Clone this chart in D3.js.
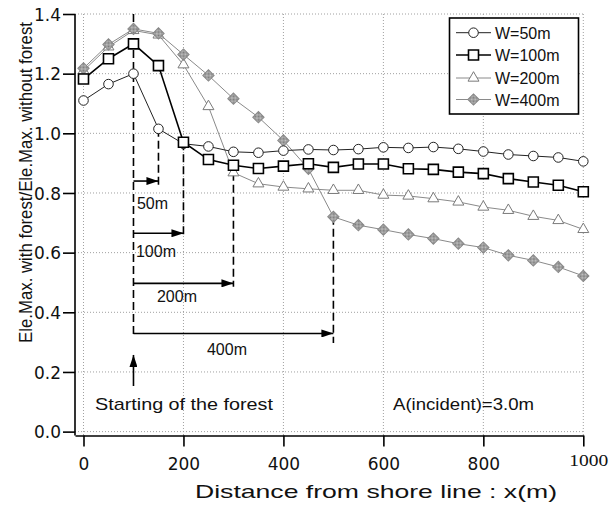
<!DOCTYPE html>
<html>
<head>
<meta charset="utf-8">
<script src="https://cdn.jsdelivr.net/npm/d3@7/dist/d3.min.js"></script>
<style>
  body { margin: 0; background: #fff; }
  svg { display: block; font-family: "Liberation Sans", Arial, sans-serif; }
  .grid line { stroke: #a0a0a0; stroke-width: 1; stroke-dasharray: 1,2; }
  .note { font-size: 16px; fill: #111; }
</style>
</head>
<body>
<svg id="chart" width="616" height="505"></svg>
<script>
// distance from shore line (m)
var distance = [0, 50, 100, 150, 200, 250, 300, 350, 400, 450, 500,
                550, 600, 650, 700, 750, 800, 850, 900, 950, 1000];

// Ele.Max. with forest / Ele.Max. without forest, one list per forest width
var w50  = [1.110, 1.165, 1.200, 1.015, 0.965, 0.956, 0.938, 0.935, 0.942, 0.946, 0.944,
            0.947, 0.953, 0.951, 0.954, 0.948, 0.939, 0.929, 0.924, 0.919, 0.906];
var w100 = [1.182, 1.250, 1.300, 1.227, 0.970, 0.912, 0.893, 0.882, 0.890, 0.898, 0.886,
            0.897, 0.897, 0.881, 0.879, 0.870, 0.865, 0.848, 0.837, 0.826, 0.804];
var w200 = [1.210, 1.290, 1.345, 1.330, 1.230, 1.090, 0.868, 0.831, 0.820, 0.814, 0.809,
            0.809, 0.793, 0.790, 0.781, 0.770, 0.753, 0.742, 0.722, 0.708, 0.678];
var w400 = [1.218, 1.298, 1.350, 1.335, 1.264, 1.194, 1.116, 1.054, 0.976, 0.881, 0.720,
            0.692, 0.677, 0.661, 0.647, 0.630, 0.617, 0.591, 0.574, 0.552, 0.522];

var seriesNames = ["W=50m", "W=100m", "W=200m", "W=400m"];
var xTicks = [0, 200, 400, 600, 800, 1000];
var yTicks = [0.0, 0.2, 0.4, 0.6, 0.8, 1.0, 1.2, 1.4];

// forest start and the widths marked with arrows
var forestStart = 100;
var widthMarks = [
  { label: "50m",  width: 50,  arrowY: 0.840, lineTop: 1.015, lineBottom: 0.816, textX: 107, textY: 0.746 },
  { label: "100m", width: 100, arrowY: 0.665, lineTop: 0.970, lineBottom: 0.649, textX: 105, textY: 0.586 },
  { label: "200m", width: 200, arrowY: 0.497, lineTop: 0.868, lineBottom: 0.486, textX: 147, textY: 0.435 },
  { label: "400m", width: 400, arrowY: 0.329, lineTop: 0.720, lineBottom: 0.297, textX: 247, textY: 0.257 }
];

var svg = d3.select("#chart");

var x = d3.scaleLinear().domain([-17, 1000]).range([75, 583.3]);
var y = d3.scaleLinear().domain([-0.013, 1.4]).range([435.5, 14]);

svg.append("rect").attr("width", 616).attr("height", 505).attr("fill", "#fff");

var defs = svg.append("defs");
defs.append("marker")
    .attr("id", "head")
    .attr("viewBox", "0 0 12 8")
    .attr("refX", 12).attr("refY", 4)
    .attr("markerWidth", 12).attr("markerHeight", 8)
    .attr("markerUnits", "userSpaceOnUse")
    .attr("orient", "auto")
  .append("path")
    .attr("d", "M0,0L12,4L0,8Z")
    .attr("fill", "#000");

var pat = defs.append("pattern")
    .attr("id", "check")
    .attr("width", 2).attr("height", 2)
    .attr("patternUnits", "userSpaceOnUse");
pat.append("rect").attr("width", 2).attr("height", 2).attr("fill", "#c8c8c8");
pat.append("rect").attr("width", 1).attr("height", 1).attr("fill", "#777");
pat.append("rect").attr("x", 1).attr("y", 1).attr("width", 1).attr("height", 1).attr("fill", "#777");

// dotted grid
var grid = svg.append("g").attr("class", "grid");
grid.selectAll(".h").data(yTicks).enter().append("line")
    .attr("x1", x(-17)).attr("x2", x(1000))
    .attr("y1", function(d) { return y(d); })
    .attr("y2", function(d) { return y(d); });
grid.selectAll(".v").data(xTicks).enter().append("line")
    .attr("x1", function(d) { return x(d); })
    .attr("x2", function(d) { return x(d); })
    .attr("y1", y(1.4)).attr("y2", y(-0.013));

// axes
var xAxis = svg.append("g")
    .attr("transform", "translate(0," + y(-0.013) + ")")
    .call(d3.axisBottom(x).tickValues(xTicks).tickSize(11).tickSizeOuter(0).tickPadding(11)
      .tickFormat(d3.format("d")));
var yAxis = svg.append("g")
    .attr("transform", "translate(" + x(-17) + ",0)")
    .call(d3.axisLeft(y).tickValues(yTicks).tickSize(12).tickSizeOuter(0).tickPadding(2)
      .tickFormat(d3.format(".1f")));

[xAxis, yAxis].forEach(function(a) {
  a.attr("font-family", "'DejaVu Sans', sans-serif").attr("font-size", 17);
  a.select(".domain").attr("stroke", "#000").attr("stroke-width", 1.6);
  a.selectAll(".tick line").attr("stroke", "#000").attr("stroke-width", 1.6);
  a.selectAll(".tick text").attr("fill", "#111");
});
yAxis.select(".domain").attr("d", "M0," + y(1.4) + "V" + y(-0.013));
yAxis.selectAll(".tick text").attr("dy", "0.36em")
    .attr("textLength", 27).attr("lengthAdjust", "spacingAndGlyphs");
xAxis.selectAll(".tick text").attr("dy", "0.71em");
// the 1000 label is set in a serif face in the original figure
xAxis.selectAll(".tick text").filter(function(d) { return d === 1000; })
    .attr("font-family", "'Liberation Serif', 'Times New Roman', serif")
    .attr("dx", 5).attr("dy", "0.5em")
    .attr("textLength", 39).attr("lengthAdjust", "spacingAndGlyphs");

// axis titles
svg.append("text")
    .attr("x", 195).attr("y", 498)
    .attr("font-size", 19).attr("fill", "#111")
    .attr("textLength", 362).attr("lengthAdjust", "spacingAndGlyphs")
    .text("Distance from shore line : x(m)");
svg.append("text")
    .attr("transform", "translate(32,343) rotate(-90)")
    .attr("font-size", 18).attr("fill", "#111")
    .attr("textLength", 321).attr("lengthAdjust", "spacingAndGlyphs")
    .text("Ele.Max. with forest/Ele.Max. without forest");

// annotations: forest start and widths
var ann = svg.append("g").attr("stroke", "#000").attr("stroke-width", 1.6).attr("fill", "none");
ann.append("line")
    .attr("x1", x(forestStart)).attr("x2", x(forestStart))
    .attr("y1", y(1.4)).attr("y2", y(0.317))
    .attr("stroke-dasharray", "8,4");
ann.append("line")
    .attr("x1", x(forestStart)).attr("x2", x(forestStart))
    .attr("y1", y(0.153)).attr("y2", y(0.257))
    .attr("marker-end", "url(#head)");

widthMarks.forEach(function(m) {
  var xe = x(forestStart + m.width);
  ann.append("line")
      .attr("x1", xe).attr("x2", xe)
      .attr("y1", y(m.lineTop)).attr("y2", y(m.lineBottom))
      .attr("stroke-dasharray", "8,4");
  ann.append("line")
      .attr("x1", x(forestStart)).attr("x2", xe)
      .attr("y1", y(m.arrowY)).attr("y2", y(m.arrowY))
      .attr("marker-end", "url(#head)");
  svg.append("text").attr("class", "note")
      .attr("x", x(m.textX)).attr("y", y(m.textY))
      .text(m.label);
});

svg.append("text")
    .attr("x", 95).attr("y", 410)
    .attr("font-size", 17).attr("fill", "#111")
    .attr("textLength", 178).attr("lengthAdjust", "spacingAndGlyphs")
    .text("Starting of the forest");
svg.append("text")
    .attr("x", 393).attr("y", 410)
    .attr("font-size", 17).attr("fill", "#111")
    .attr("textLength", 141).attr("lengthAdjust", "spacingAndGlyphs")
    .text("A(incident)=3.0m");

// series
var styles = [
  { name: seriesNames[0], values: w50,  line: "#222", lw: 1,   sym: d3.symbolCircle,   size: 72,  fill: "#fff", stroke: "#222", sw: 1,   rot: 0 },
  { name: seriesNames[1], values: w100, line: "#000", lw: 1.6, sym: d3.symbolSquare,   size: 100, fill: "#fff", stroke: "#000", sw: 1.6, rot: 0 },
  { name: seriesNames[2], values: w200, line: "#8a8a8a", lw: 1, sym: d3.symbolTriangle, size: 52,  fill: "#fff", stroke: "#7a7a7a", sw: 1, rot: 0 },
  { name: seriesNames[3], values: w400, line: "#8a8a8a", lw: 1, sym: d3.symbolSquare,   size: 64,  fill: "url(#check)", stroke: "#888", sw: 1, rot: 45 }
];
var drawOrder = [2, 3, 0, 1];

var line = d3.line()
    .x(function(d) { return x(d[0]); })
    .y(function(d) { return y(d[1]); });

drawOrder.forEach(function(i) {
  var s = styles[i];
  var pts = distance.map(function(d, j) { return [d, s.values[j]]; });
  svg.append("path")
      .attr("d", line(pts))
      .attr("fill", "none")
      .attr("stroke", s.line)
      .attr("stroke-width", s.lw);
  svg.append("g").selectAll("path").data(pts).enter().append("path")
      .attr("d", d3.symbol().type(s.sym).size(s.size))
      .attr("transform", function(d) { return "translate(" + x(d[0]) + "," + y(d[1]) + ") rotate(" + s.rot + ")"; })
      .attr("fill", s.fill)
      .attr("stroke", s.stroke)
      .attr("stroke-width", s.sw);
});

// legend
var lg = svg.append("g");
lg.append("rect")
    .attr("x", 449.5).attr("y", 18).attr("width", 129).attr("height", 96)
    .attr("fill", "#fff").attr("stroke", "#000").attr("stroke-width", 1.6);
var rowY = [32.7, 55, 78, 99.5];
styles.forEach(function(s, i) {
  var r = lg.append("g").attr("transform", "translate(0," + rowY[i] + ")");
  r.append("line").attr("x1", 456).attr("x2", 491)
      .attr("stroke", s.line).attr("stroke-width", s.lw);
  r.append("path")
      .attr("d", d3.symbol().type(s.sym).size(s.size))
      .attr("transform", "translate(473.5,0) rotate(" + s.rot + ")")
      .attr("fill", s.fill).attr("stroke", s.stroke).attr("stroke-width", s.sw);
  r.append("text")
      .attr("x", 495).attr("y", 6)
      .attr("font-size", 16).attr("fill", "#111")
      .text(s.name);
});
</script>
</body>
</html>
